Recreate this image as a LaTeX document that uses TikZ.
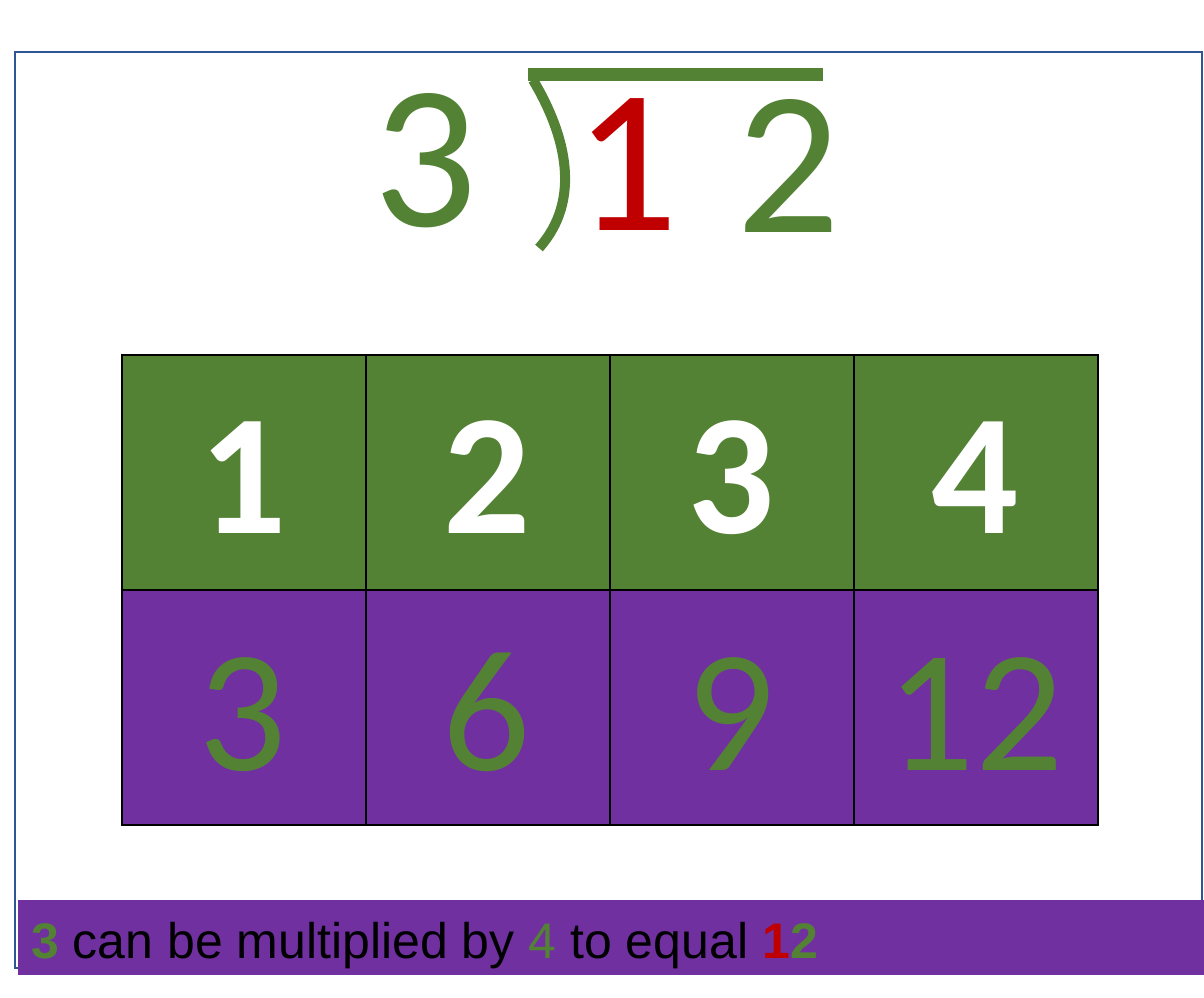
\documentclass[tikz,border=0pt]{standalone}
\usepackage{fontspec}
\setmainfont{Liberation Sans}
\newfontfamily\calibri{Carlito}
\definecolor{dgreen}{HTML}{548235}
\definecolor{dpurple}{HTML}{7030A0}
\definecolor{dred}{HTML}{C00000}
\definecolor{frameblue}{HTML}{2F5597}
\begin{document}
\begin{tikzpicture}[x=1pt,y=-1pt,
  cellbox/.style={draw=black,line width=1.5pt,minimum width=244pt,minimum height=235pt,inner sep=0pt,anchor=north west},
  topcell/.style={cellbox,fill=dgreen},
  botcell/.style={cellbox,fill=dpurple},
  topnum/.style={anchor=base,inner sep=0pt,text=white,font=\calibri\bfseries\fontsize{172}{172}\selectfont},
  botnum/.style={anchor=base,inner sep=0pt,text=dgreen,font=\calibri\fontsize{174}{174}\selectfont},
  bignum/.style={anchor=base,inner sep=0pt,font=\calibri\fontsize{205}{205}\selectfont}
]
\useasboundingbox (0,0) rectangle (1204,997);
\fill[white] (0,0) rectangle (1204,997);
% frame
\draw[frameblue,line width=2.5pt] (15,52) rectangle (1202,968);
% division sign
\node[bignum,text=dgreen] (d3) at (425,226) {3};
\node[bignum,text=dred] (d1) at (626,230) {1};
\node[bignum,text=dgreen] (d2) at (788,232) {2};
\fill[dgreen] (528,68) rectangle (823,81);
\draw[dgreen,line width=10pt] (533,80) .. controls (566,135) and (582,200) .. (539,248);
% grid
\foreach \i/\a/\b in {0/1/3,1/2/6,2/3/9,3/4/12}{
  \node[topcell] (t\i) at ({121+244*\i},354) {};
  \node[botcell] (b\i) at ({121+244*\i},589) {};
  \node[topnum] (tn\i) at ({243+244*\i},533) {\a};
  \node[botnum] (bn\i) at ({243+244*\i},770) {\b};
}
% bottom bar
\fill[dpurple] (18,900) rectangle (1204,975);
\node[anchor=base west,inner sep=0pt,font=\fontsize{50}{50}\selectfont] (caption) at (31,958)
  {\textcolor{dgreen}{\bfseries 3} can be multiplied by \textcolor{dgreen}{4} to equal \textcolor{dred}{\bfseries 1}\textcolor{dgreen}{\bfseries 2}};
\end{tikzpicture}
\end{document}
